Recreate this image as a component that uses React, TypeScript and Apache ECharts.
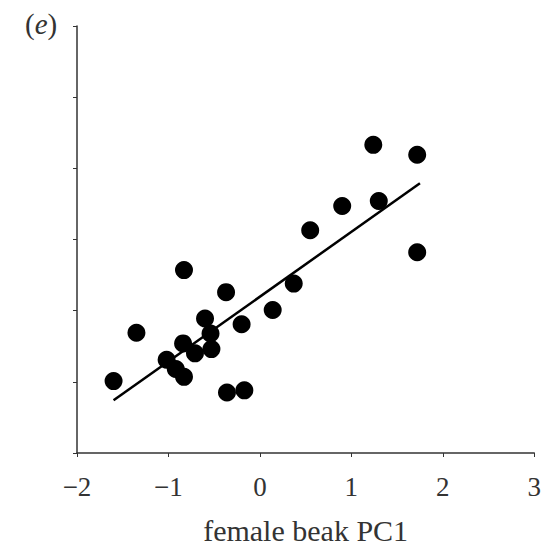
import React, { useEffect, useRef } from "react";
import * as echarts from "echarts";

const xValues = [-1.6, -1.35, -1.02, -0.92, -0.83, -0.83, -0.84, -0.71, -0.6, -0.54, -0.53, -0.37, -0.36, -0.2, -0.17, 0.14, 0.37, 0.55, 0.9, 1.24, 1.3, 1.72, 1.72];
const yValues = [1.01, 1.69, 1.31, 1.18, 1.07, 2.57, 1.54, 1.4, 1.89, 1.68, 1.46, 2.26, 0.85, 1.81, 0.88, 2.01, 2.38, 3.13, 3.47, 4.33, 3.54, 4.19, 2.82];
const fitX = [-1.6, 1.75];
const fitY = [0.74, 3.79];
const xTicks = [-2, -1, 0, 1, 2, 3];
const panelLetter = "e";
const xName = "female beak PC1";

export default function App() {
  const ref = useRef<HTMLDivElement>(null);
  useEffect(() => {
    document.body.style.margin = "0";
    const chart = echarts.init(ref.current!, null, { renderer: "svg" });
    const font = "'Liberation Serif', 'DejaVu Serif', serif";
    chart.setOption({
      animation: false,
      backgroundColor: "#fff",
      grid: { left: 77, right: 3, top: 26, bottom: 92, containLabel: false },
      xAxis: {
        type: "value",
        min: xTicks[0],
        max: xTicks[xTicks.length - 1],
        interval: 1,
        name: xName,
        nameLocation: "middle",
        nameGap: 62,
        nameTextStyle: { fontFamily: font, fontSize: 30, color: "#333" },
        axisLine: { onZero: false, lineStyle: { color: "#333", width: 1.5 } },
        axisTick: { show: true, length: 4, lineStyle: { color: "#333" } },
        axisLabel: {
          fontFamily: font,
          fontSize: 27,
          color: "#333",
          margin: 20,
          formatter: (v: number) => (v < 0 ? "\u2212" + Math.abs(v) : String(v)),
        },
        splitLine: { show: false },
      },
      yAxis: {
        type: "value",
        min: 0,
        max: 6,
        interval: 1,
        axisLine: { show: true, onZero: false, lineStyle: { color: "#333", width: 1.5 } },
        axisTick: { show: true, length: 4, lineStyle: { color: "#333" } },
        axisLabel: { show: false },
        splitLine: { show: false },
      },
      graphic: [
        {
          type: "text",
          left: 25,
          top: 9,
          style: {
            text: "{p|(}{e|" + panelLetter + "}{p|)}",
            rich: {
              p: { fontFamily: font, fontSize: 29, fill: "#333", color: "#333" },
              e: { fontFamily: font, fontSize: 29, fontStyle: "italic", fill: "#333", color: "#333" },
            },
          },
        },
      ],
      series: [
        {
          type: "scatter",
          data: xValues.map((x, i) => [x, yValues[i]]),
          symbolSize: 18,
          itemStyle: { color: "#000", opacity: 1 },
          z: 3,
        },
        {
          type: "line",
          data: fitX.map((x, i) => [x, fitY[i]]),
          showSymbol: false,
          symbol: "none",
          lineStyle: { color: "#000", width: 2.5 },
          z: 4,
        },
      ],
    });
    return () => chart.dispose();
  }, []);
  return <div ref={ref} style={{ width: 544, height: 550 }} />;
}
